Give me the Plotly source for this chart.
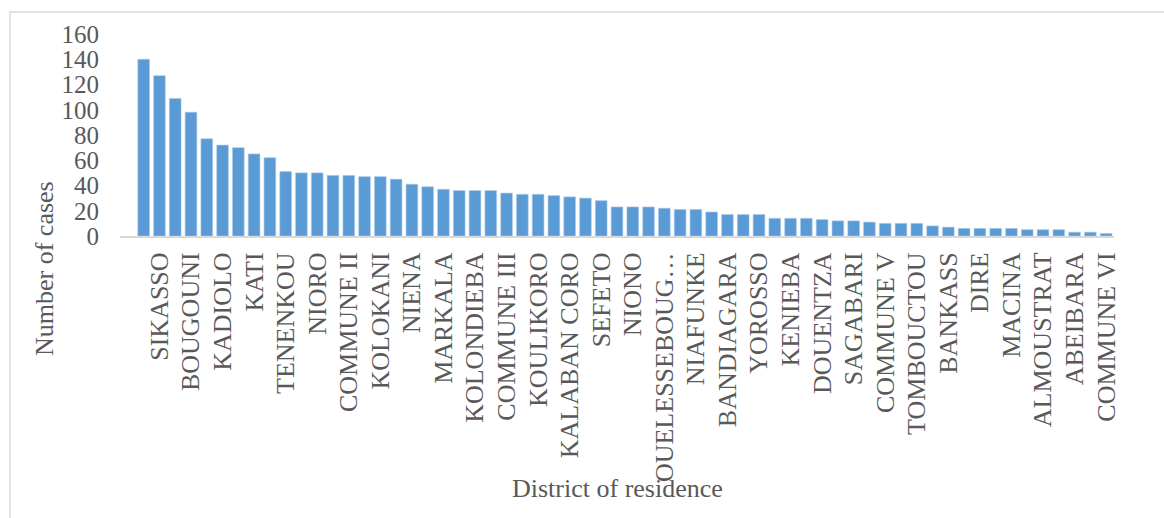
import plotly.graph_objects as go

# Number of cases per district, sorted in descending order (62 districts)
cases = [
    140, 127, 109, 98, 77, 72, 70, 65, 62, 51,
    50, 50, 48, 48, 47, 47, 45, 41, 39, 37,
    36, 36, 36, 34, 33, 33, 32, 31, 30, 28,
    23, 23, 23, 22, 21, 21, 19, 17, 17, 17,
    14, 14, 14, 13, 12, 12, 11, 10, 10, 10,
    8, 7, 6, 6, 6, 6, 5, 5, 5, 3,
    3, 2,
]

# Axis labels shown on every second district
district_labels = [
    "SIKASSO", "BOUGOUNI", "KADIOLO", "KATI", "TENENKOU", "NIORO",
    "COMMUNE II", "KOLOKANI", "NIENA", "MARKALA", "KOLONDIEBA",
    "COMMUNE III", "KOULIKORO", "KALABAN CORO", "SEFETO", "NIONO",
    "OUELESSEBOUG…", "NIAFUNKE", "BANDIAGARA", "YOROSSO", "KENIEBA",
    "DOUENTZA", "SAGABARI", "COMMUNE V", "TOMBOUCTOU", "BANKASS",
    "DIRE", "MACINA", "ALMOUSTRAT", "ABEIBARA", "COMMUNE VI",
]

y_ticks = [0, 20, 40, 60, 80, 100, 120, 140, 160]

positions = list(range(len(cases)))
label_positions = [2 * i + 1 for i in range(len(district_labels))]

FONT = "Liberation Serif"
GREY = "#595959"

fig = go.Figure(
    go.Bar(
        x=positions,
        y=cases,
        marker=dict(color="#5B9BD5", line=dict(color="#A9C8EA", width=0.6)),
        width=0.74,
        hoverinfo="y",
    )
)

fig.update_layout(
    width=1164,
    height=518,
    margin=dict(l=120, r=50, t=34, b=282),
    paper_bgcolor="white",
    plot_bgcolor="white",
    showlegend=False,
    font=dict(family=FONT, color=GREY, size=26),
    xaxis=dict(
        range=[-1.5, len(cases) - 0.5],
        tickmode="array",
        tickvals=label_positions,
        ticktext=district_labels,
        tickangle=-90,
        tickfont=dict(family=FONT, size=26, color=GREY),
        ticks="",
        ticklabelstandoff=4,
        showline=True,
        linecolor="#D9D9D9",
        linewidth=2,
        showgrid=False,
        zeroline=False,
        fixedrange=True,
    ),
    yaxis=dict(
        range=[0, 160],
        tickmode="array",
        tickvals=y_ticks,
        tickfont=dict(family=FONT, size=25, color=GREY),
        ticks="",
        ticklabelstandoff=20,
        showline=False,
        showgrid=False,
        zeroline=False,
        fixedrange=True,
    ),
    annotations=[
        dict(
            text="District of residence",
            xref="paper", yref="paper",
            x=0.5, y=(236 - 488) / 202,
            xanchor="center", yanchor="middle",
            showarrow=False,
            font=dict(family=FONT, size=26, color=GREY),
        ),
        dict(
            text="Number of cases",
            xref="paper", yref="paper",
            x=(44 - 120) / 994, y=(236 - 269) / 202,
            xanchor="center", yanchor="middle",
            textangle=-90,
            showarrow=False,
            font=dict(family=FONT, size=26, color=GREY),
        ),
    ],
    shapes=[
        # chart frame
        dict(
            type="rect", xref="paper", yref="paper",
            x0=(10 - 120) / 994, x1=1.3,
            y0=-2.0, y1=1 + 22 / 202,
            line=dict(color="#D9D9D9", width=1.5),
            fillcolor="rgba(0,0,0,0)",
            layer="below",
        )
    ],
)

fig.write_html("out.html")
